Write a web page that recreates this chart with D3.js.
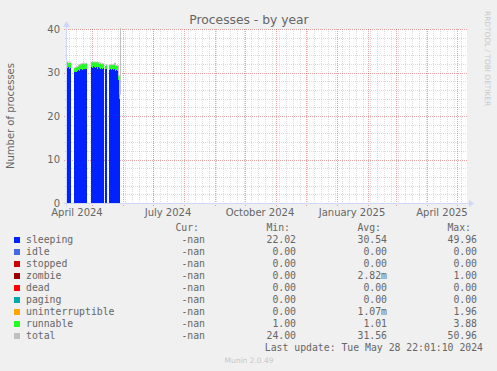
<!DOCTYPE html>
<html>
<head>
<meta charset="utf-8">
<script src="https://cdn.jsdelivr.net/npm/d3@7"></script>
<style>
  body { margin: 0; background: #f0f0f0; }
  svg { display: block; }
</style>
</head>
<body>
<div id="chart"></div>
<script>

// first day of data, one value per day after it
var dataStart = Date.UTC(2024, 3, 6);

var sleeping = [
  31.1, 31.2, 30.9, 31.1,
  null, null, null,
  30.2, 30.1, 30.2, 30.3, 30.5, 30.4, 30.7, 30.8, 30.6, 30.9, 30.8, 30.7, 30.9,
  null, null, null, null,
  31.3, 31.1, 31.4, 31.2, 31.0, 31.3, 30.9, 31.2, 31.1, 30.9, 31.0, 30.8, 31.0,
  null,
  30.7, 30.8,
  null, null,
  30.6, 30.7, 30.5, 30.8, 30.6, 30.7, 30.4, 30.6, 30.3, 28.2, 24.0,
  null
];

var runnable = [
  1.2, 1.0, 1.3, 1.1,
  null, null, null,
  0.9, 1.0, 1.1, 1.0, 1.2, 1.3, 1.2, 1.1, 1.4, 1.2, 1.1, 1.3, 1.2,
  null, null, null, null,
  1.0, 1.2, 0.9, 1.1, 1.3, 1.0, 1.2, 1.1, 0.9, 1.2, 1.0, 1.1, 1.0,
  null,
  0.9, 1.0,
  null, null,
  1.1, 1.0, 1.2, 1.0, 1.1, 1.3, 1.1, 1.0, 1.2, 1.0, 1.0,
  null
];

var total = [
  32.5, 32.4, 32.3, 32.4,
  null, null, null,
  31.1, 31.2, 31.4, 31.4, 31.8, 31.8, 32.0, 32.0, 32.1, 32.2, 32.0, 32.1, 32.2,
  null, null, null, null,
  32.4, 32.4, 32.4, 32.4, 32.4, 32.4, 32.2, 32.4, 32.1, 32.2, 32.1, 32.0, 32.1,
  null,
  31.7, 31.9,
  null, null,
  31.8, 31.8, 31.8, 31.9, 31.8, 32.2, 31.6, 31.7, 31.6, 29.3, 25.0,
  50.96
];

var yTicks = [0, 10, 20, 30, 40];
var xLabelDates = [Date.UTC(2024, 3, 1), Date.UTC(2024, 6, 1), Date.UTC(2024, 9, 1), Date.UTC(2025, 0, 1), Date.UTC(2025, 3, 1)];
var xLabels = ["April 2024", "July 2024", "October 2024", "January 2025", "April 2025"];

var legendNames = ["sleeping", "idle", "stopped", "zombie", "dead", "paging", "uninterruptible", "runnable", "total"];
var legendColors = ["#0022ff", "#4169e1", "#cc0000", "#990000", "#ff0000", "#00aaaa", "#ffa500", "#22ff22", "#c0c0c0"];
var curVals = ["-nan", "-nan", "-nan", "-nan", "-nan", "-nan", "-nan", "-nan", "-nan"];
var minVals = ["22.02", "0.00", "0.00", "0.00", "0.00", "0.00", "0.00", "1.00", "24.00"];
var avgVals = ["30.54", "0.00", "0.00", "2.82m", "0.00", "0.00", "1.07m", "1.01", "31.56"];
var maxVals = ["49.96", "0.00", "0.00", "1.00", "0.00", "0.00", "1.96", "3.88", "50.96"];

var width = 497, height = 371;
var plot = {left: 67, right: 467, top: 29, bottom: 203};
var fontColor = "#666666";
var axisColor = "#cfd6f8";
var gridColor = "rgba(140,140,140,0.3)";
var mgridColor = "rgba(200,30,30,0.4)";

var svg = d3.select("#chart").append("svg")
  .attr("width", width)
  .attr("height", height);

svg.append("rect").attr("width", width).attr("height", height).attr("fill", "#f0f0f0");
svg.append("rect")
  .attr("x", plot.left).attr("y", plot.top)
  .attr("width", plot.right - plot.left).attr("height", plot.bottom - plot.top)
  .attr("fill", "#ffffff");

var xscale = d3.scaleUtc()
  .domain([Date.UTC(2024, 3, 6), Date.UTC(2025, 4, 11)])
  .range([plot.left, plot.right]);
var yscale = d3.scaleLinear()
  .domain([0, 40])
  .range([plot.bottom, plot.top]);

// grid: weekly minor, monthly major, y minor every 2 / major every 10
var grid = svg.append("g").attr("shape-rendering", "crispEdges");
var weeks = d3.utcMonday.range(xscale.domain()[0], xscale.domain()[1]);
var months = d3.utcMonth.range(xscale.domain()[0], xscale.domain()[1]);

grid.selectAll(".vminor").data(weeks).enter().append("line")
  .attr("x1", function(d) { return Math.round(xscale(d)) + 0.5; })
  .attr("x2", function(d) { return Math.round(xscale(d)) + 0.5; })
  .attr("y1", plot.top).attr("y2", plot.bottom + 2)
  .attr("stroke", gridColor).attr("stroke-dasharray", "1,1");

grid.selectAll(".hminor").data(d3.range(2, 41, 2).filter(function(v) { return v % 10 !== 0; })).enter().append("line")
  .attr("x1", plot.left - 2).attr("x2", plot.right)
  .attr("y1", function(d) { return Math.round(yscale(d)) + 0.5; })
  .attr("y2", function(d) { return Math.round(yscale(d)) + 0.5; })
  .attr("stroke", gridColor).attr("stroke-dasharray", "1,1");

grid.selectAll(".vmajor").data(months).enter().append("line")
  .attr("x1", function(d) { return Math.round(xscale(d)) + 0.5; })
  .attr("x2", function(d) { return Math.round(xscale(d)) + 0.5; })
  .attr("y1", plot.top).attr("y2", plot.bottom + 3)
  .attr("stroke", mgridColor).attr("stroke-dasharray", "1,1");

grid.selectAll(".hmajor").data(yTicks.filter(function(v) { return v > 0; })).enter().append("line")
  .attr("x1", plot.left - 3).attr("x2", plot.right)
  .attr("y1", function(d) { return Math.round(yscale(d)) + 0.5; })
  .attr("y2", function(d) { return Math.round(yscale(d)) + 0.5; })
  .attr("stroke", mgridColor).attr("stroke-dasharray", "1,1");

// data
var days = sleeping.map(function(v, i) { return d3.utcDay.offset(dataStart, i); });

svg.append("clipPath").attr("id", "clip").append("rect")
  .attr("x", plot.left).attr("y", plot.top - 1)
  .attr("width", plot.right - plot.left + 1).attr("height", plot.bottom - plot.top + 1);

var area = svg.append("g").attr("clip-path", "url(#clip)").attr("shape-rendering", "crispEdges");
var rows = days.map(function(d, i) { return {date: d, s: sleeping[i], r: runnable[i]}; })
  .filter(function(d) { return d.s !== null; });

area.selectAll(".sleep").data(rows).enter().append("rect")
  .attr("x", function(d) { return xscale(d.date); })
  .attr("width", function(d) { return xscale(d3.utcDay.offset(d.date, 1)) - xscale(d.date); })
  .attr("y", function(d) { return yscale(d.s); })
  .attr("height", function(d) { return yscale(0) - yscale(d.s); })
  .attr("fill", legendColors[0]);

area.selectAll(".run").data(rows).enter().append("rect")
  .attr("x", function(d) { return xscale(d.date); })
  .attr("width", function(d) { return xscale(d3.utcDay.offset(d.date, 1)) - xscale(d.date); })
  .attr("y", function(d) { return yscale(d.s + d.r); })
  .attr("height", function(d) { return yscale(d.s) - yscale(d.s + d.r); })
  .attr("fill", legendColors[7]);

var totalLine = d3.line()
  .defined(function(d) { return d.v !== null; })
  .x(function(d) { return Math.round(xscale(d.date)) + 0.5; })
  .y(function(d) { return yscale(d.v); })
  .curve(d3.curveStepAfter);

svg.append("g").attr("clip-path", "url(#clip)").append("path")
  .datum(days.map(function(d, i) { return {date: d, v: total[i]}; }))
  .attr("fill", "none")
  .attr("stroke", legendColors[8])
  .attr("stroke-width", 1)
  .attr("d", totalLine);

// axes with arrows
svg.append("line")
  .attr("x1", plot.left - 3).attr("x2", plot.right + 3)
  .attr("y1", plot.bottom + 0.5).attr("y2", plot.bottom + 0.5)
  .attr("stroke", axisColor);
svg.append("path")
  .attr("d", "M" + (plot.right + 2) + "," + (plot.bottom - 3) + "L" + (plot.right + 7) + "," + (plot.bottom + 0.5) + "L" + (plot.right + 2) + "," + (plot.bottom + 4) + "Z")
  .attr("fill", axisColor);
svg.append("line")
  .attr("x1", plot.left - 0.5).attr("x2", plot.left - 0.5)
  .attr("y1", plot.bottom + 3).attr("y2", plot.top - 3)
  .attr("stroke", axisColor);
svg.append("path")
  .attr("d", "M" + (plot.left - 4) + "," + (plot.top - 2) + "L" + (plot.left - 0.5) + "," + (plot.top - 8) + "L" + (plot.left + 3) + "," + (plot.top - 2) + "Z")
  .attr("fill", axisColor);

// tick labels
var sans = "'DejaVu Sans', sans-serif";
var mono = "'DejaVu Sans Mono', monospace";

svg.selectAll(".ylab").data(yTicks).enter().append("text")
  .attr("x", plot.left - 7)
  .attr("y", function(d) { return yscale(d) + 3.5; })
  .attr("text-anchor", "end")
  .attr("font-family", sans).attr("font-size", "10px").attr("fill", fontColor)
  .text(function(d) { return d; });

// rrdtool centres the label in the middle of the month
svg.selectAll(".xlab").data(xLabelDates).enter().append("text")
  .attr("x", function(d) { return xscale(d3.utcDay.offset(d, 15)); })
  .attr("y", plot.bottom + 13)
  .attr("text-anchor", "middle")
  .attr("font-family", sans).attr("font-size", "10px").attr("fill", fontColor)
  .text(function(d, i) { return xLabels[i]; });

svg.append("text")
  .attr("x", 249).attr("y", 24)
  .attr("text-anchor", "middle")
  .attr("font-family", sans).attr("font-size", "12.3px").attr("fill", fontColor)
  .text("Processes - by year");

svg.append("text")
  .attr("transform", "translate(14," + ((plot.top + plot.bottom) / 2) + ") rotate(-90)")
  .attr("text-anchor", "middle")
  .attr("font-family", sans).attr("font-size", "10px").attr("fill", fontColor)
  .text("Number of processes");

svg.append("text")
  .attr("transform", "translate(485,11) rotate(90)")
  .attr("font-family", sans).attr("font-size", "7.4px").attr("fill", "#c8c8c8")
  .text("RRDTOOL / TOBI OETIKER");

// legend
var colEnds = [205, 296, 387, 477];
var headers = ["Cur:", "Min:", "Avg:", "Max:"];
var legend = svg.append("g").attr("font-family", mono).attr("font-size", "9.8px").attr("fill", fontColor);

headers.forEach(function(h, j) {
  legend.append("text")
    .attr("x", colEnds[j] - 6).attr("y", 231)
    .attr("text-anchor", "end")
    .text(h);
});

legendNames.forEach(function(name, i) {
  var y = 243 + i * 12;
  legend.append("rect")
    .attr("x", 14).attr("y", y - 6)
    .attr("width", 6).attr("height", 6)
    .attr("fill", legendColors[i]);
  legend.append("text").attr("x", 26).attr("y", y).text(name);
  [curVals[i], minVals[i], avgVals[i], maxVals[i]].forEach(function(v, j) {
    legend.append("text")
      .attr("x", colEnds[j]).attr("y", y)
      .attr("text-anchor", "end")
      .text(v);
  });
});

legend.append("text")
  .attr("x", 483).attr("y", 351)
  .attr("text-anchor", "end")
  .text("Last update: Tue May 28 22:01:10 2024");

svg.append("text")
  .attr("x", 249).attr("y", 363)
  .attr("text-anchor", "middle")
  .attr("font-family", sans).attr("font-size", "7.5px").attr("fill", "#c8c8c8")
  .text("Munin 2.0.49");

</script>
</body>
</html>
